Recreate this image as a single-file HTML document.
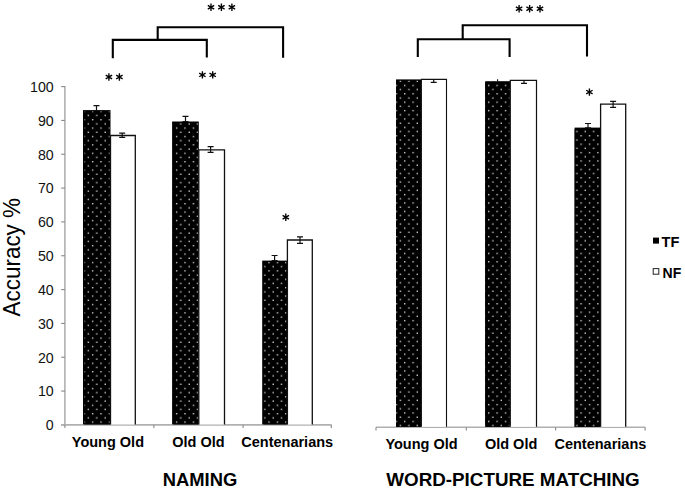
<!DOCTYPE html>
<html><head><meta charset="utf-8"><style>
html,body{margin:0;padding:0;background:#fff;width:685px;height:490px;overflow:hidden}
svg text{font-family:"Liberation Sans",sans-serif}
</style></head><body>
<svg width="685" height="490" viewBox="0 0 685 490" style="display:block;font-family:'Liberation Sans',sans-serif"><defs>
<pattern id="dots" patternUnits="userSpaceOnUse" width="8.4" height="8.4" x="2.3" y="4.2">
<rect width="8.4" height="8.4" fill="#000"/>
<rect x="1.45" y="1.45" width="1.3" height="1.3" fill="#e8e8e8"/>
<rect x="5.65" y="5.65" width="1.3" height="1.3" fill="#e8e8e8"/>
</pattern>
<pattern id="dotsR" patternUnits="userSpaceOnUse" width="8.4" height="8.4" x="3.6" y="3.5">
<rect width="8.4" height="8.4" fill="#000"/>
<rect x="1.45" y="1.45" width="1.3" height="1.3" fill="#e8e8e8"/>
<rect x="5.65" y="5.65" width="1.3" height="1.3" fill="#e8e8e8"/>
</pattern>
</defs>
<line x1="64.9" y1="86.10" x2="64.9" y2="424.9" stroke="#b0b0b0" stroke-width="1.6"/>
<line x1="61.2" y1="424.90" x2="64.9" y2="424.90" stroke="#888" stroke-width="1.1"/>
<text x="53.7" y="430.20" text-anchor="end" font-size="14.2" fill="#111">0</text>
<line x1="61.2" y1="391.07" x2="64.9" y2="391.07" stroke="#888" stroke-width="1.1"/>
<text x="53.7" y="396.37" text-anchor="end" font-size="14.2" fill="#111">10</text>
<line x1="61.2" y1="357.24" x2="64.9" y2="357.24" stroke="#888" stroke-width="1.1"/>
<text x="53.7" y="362.54" text-anchor="end" font-size="14.2" fill="#111">20</text>
<line x1="61.2" y1="323.41" x2="64.9" y2="323.41" stroke="#888" stroke-width="1.1"/>
<text x="53.7" y="328.71" text-anchor="end" font-size="14.2" fill="#111">30</text>
<line x1="61.2" y1="289.58" x2="64.9" y2="289.58" stroke="#888" stroke-width="1.1"/>
<text x="53.7" y="294.88" text-anchor="end" font-size="14.2" fill="#111">40</text>
<line x1="61.2" y1="255.75" x2="64.9" y2="255.75" stroke="#888" stroke-width="1.1"/>
<text x="53.7" y="261.05" text-anchor="end" font-size="14.2" fill="#111">50</text>
<line x1="61.2" y1="221.92" x2="64.9" y2="221.92" stroke="#888" stroke-width="1.1"/>
<text x="53.7" y="227.22" text-anchor="end" font-size="14.2" fill="#111">60</text>
<line x1="61.2" y1="188.09" x2="64.9" y2="188.09" stroke="#888" stroke-width="1.1"/>
<text x="53.7" y="193.39" text-anchor="end" font-size="14.2" fill="#111">70</text>
<line x1="61.2" y1="154.26" x2="64.9" y2="154.26" stroke="#888" stroke-width="1.1"/>
<text x="53.7" y="159.56" text-anchor="end" font-size="14.2" fill="#111">80</text>
<line x1="61.2" y1="120.43" x2="64.9" y2="120.43" stroke="#888" stroke-width="1.1"/>
<text x="53.7" y="125.73" text-anchor="end" font-size="14.2" fill="#111">90</text>
<line x1="61.2" y1="86.60" x2="64.9" y2="86.60" stroke="#888" stroke-width="1.1"/>
<text x="53.7" y="91.90" text-anchor="end" font-size="14.2" fill="#111">100</text>
<line x1="61.2" y1="424.9" x2="331.6" y2="424.9" stroke="#b0b0b0" stroke-width="1.6"/>
<line x1="64.9" y1="424.9" x2="64.9" y2="428" stroke="#888" stroke-width="1.1"/>
<line x1="153.9" y1="424.9" x2="153.9" y2="428" stroke="#888" stroke-width="1.1"/>
<line x1="243.1" y1="424.9" x2="243.1" y2="428" stroke="#888" stroke-width="1.1"/>
<line x1="331.3" y1="424.9" x2="331.3" y2="428" stroke="#888" stroke-width="1.1"/>
<line x1="376" y1="427.3" x2="645.3" y2="427.3" stroke="#b0b0b0" stroke-width="1.6"/>
<line x1="376.0" y1="427.3" x2="376.0" y2="430.6" stroke="#888" stroke-width="1.1"/>
<line x1="466.3" y1="427.3" x2="466.3" y2="430.6" stroke="#888" stroke-width="1.1"/>
<line x1="555.6" y1="427.3" x2="555.6" y2="430.6" stroke="#888" stroke-width="1.1"/>
<line x1="645.1" y1="427.3" x2="645.1" y2="430.6" stroke="#888" stroke-width="1.1"/>
<rect x="83.0" y="110.1" width="27.50" height="314.30" fill="#000"/>
<rect x="84.4" y="111.3" width="25.30" height="313.10" fill="url(#dots)"/>
<path d="M110.5 424.4 V135.5 H135.3 V424.4" fill="#fff" stroke="#111" stroke-width="1.3"/>
<path d="M96.5 105.7 V110.5 M93.5 105.7 H99.5 M93.5 110.5 H99.5" stroke="#111" stroke-width="1.2" fill="none"/>
<path d="M122.2 133.2 V137.4 M119.2 133.2 H125.2 M119.2 137.4 H125.2" stroke="#111" stroke-width="1.2" fill="none"/>
<rect x="172.1" y="121.5" width="26.70" height="302.90" fill="#000"/>
<rect x="173.5" y="122.7" width="24.50" height="301.70" fill="url(#dots)"/>
<path d="M198.8 424.4 V149.9 H224.5 V424.4" fill="#fff" stroke="#111" stroke-width="1.3"/>
<path d="M185.5 116.3 V121.5 M182.5 116.3 H188.5 M182.5 121.5 H188.5" stroke="#111" stroke-width="1.2" fill="none"/>
<path d="M210.6 146.7 V152.4 M207.6 146.7 H213.6 M207.6 152.4 H213.6" stroke="#111" stroke-width="1.2" fill="none"/>
<rect x="262.2" y="260.6" width="25.20" height="163.80" fill="#000"/>
<rect x="263.59999999999997" y="261.8" width="23.00" height="162.60" fill="url(#dots)"/>
<path d="M287.4 424.4 V240.0 H312.3 V424.4" fill="#fff" stroke="#111" stroke-width="1.3"/>
<path d="M274.6 255.5 V260.6 M271.6 255.5 H277.6 M271.6 260.6 H277.6" stroke="#111" stroke-width="1.2" fill="none"/>
<path d="M300.0 236.8 V243.4 M297.0 236.8 H303.0 M297.0 243.4 H303.0" stroke="#111" stroke-width="1.2" fill="none"/>
<rect x="396.1" y="79.4" width="25.30" height="347.40" fill="#000"/>
<rect x="396.1" y="80.60000000000001" width="24.50" height="346.20" fill="url(#dotsR)"/>
<path d="M421.4 426.8 V79.4 H446.5 V426.8" fill="#fff" stroke="#111" stroke-width="1.1"/>
<path d="M433.7 79.4 V82.3 M430.7 82.3 H436.7" stroke="#111" stroke-width="1.2" fill="none"/>
<rect x="485.2" y="81.2" width="25.10" height="345.60" fill="#000"/>
<rect x="485.2" y="82.4" width="24.30" height="344.40" fill="url(#dotsR)"/>
<path d="M510.3 426.8 V80.4 H536.5 V426.8" fill="#fff" stroke="#111" stroke-width="1.2"/>
<line x1="497.6" y1="79.2" x2="497.6" y2="81.5" stroke="#111" stroke-width="1.1"/>
<path d="M524.0 80.4 V83.3 M521.0 83.3 H527.0" stroke="#111" stroke-width="1.2" fill="none"/>
<rect x="574.6" y="127.6" width="26.00" height="299.20" fill="#000"/>
<rect x="574.6" y="128.79999999999998" width="25.20" height="298.00" fill="url(#dotsR)"/>
<path d="M600.6 426.8 V104.2 H625.7 V426.8" fill="#fff" stroke="#111" stroke-width="1.3"/>
<path d="M588.0 123.5 V127.8 M585.0 123.5 H591.0 M585.0 127.8 H591.0" stroke="#111" stroke-width="1.2" fill="none"/>
<path d="M613.1 101.3 V107.3 M610.1 101.3 H616.1 M610.1 107.3 H616.1" stroke="#111" stroke-width="1.2" fill="none"/>
<path d="M112.8 58.3 L112.8 39.9 L206.8 39.9 L206.8 57.5" fill="none" stroke="#000" stroke-width="2.1" stroke-linejoin="miter"/>
<path d="M157.7 39.9 L157.7 27.2 L283.1 27.2 L283.1 57.7" fill="none" stroke="#000" stroke-width="2.1" stroke-linejoin="miter"/>
<path d="M417.8 56.9 L417.8 39.2 L509.6 39.2 L509.6 56.9" fill="none" stroke="#000" stroke-width="2.1" stroke-linejoin="miter"/>
<path d="M462.7 39.2 L462.7 25.2 L587.0 25.2 L587.0 56.5" fill="none" stroke="#000" stroke-width="2.1" stroke-linejoin="miter"/>
<path d="M211.00 3.60 L211.00 11.00 M207.80 5.45 L214.20 9.15 M214.20 5.45 L207.80 9.15 " stroke="#000" stroke-width="1.35" fill="none"/>
<path d="M221.40 3.60 L221.40 11.00 M218.20 5.45 L224.60 9.15 M224.60 5.45 L218.20 9.15 " stroke="#000" stroke-width="1.35" fill="none"/>
<path d="M231.90 3.60 L231.90 11.00 M228.70 5.45 L235.10 9.15 M235.10 5.45 L228.70 9.15 " stroke="#000" stroke-width="1.35" fill="none"/>
<path d="M108.90 73.30 L108.90 80.70 M105.70 75.15 L112.10 78.85 M112.10 75.15 L105.70 78.85 " stroke="#000" stroke-width="1.35" fill="none"/>
<path d="M119.40 73.30 L119.40 80.70 M116.20 75.15 L122.60 78.85 M122.60 75.15 L116.20 78.85 " stroke="#000" stroke-width="1.35" fill="none"/>
<path d="M202.40 71.20 L202.40 78.60 M199.20 73.05 L205.60 76.75 M205.60 73.05 L199.20 76.75 " stroke="#000" stroke-width="1.35" fill="none"/>
<path d="M212.70 71.20 L212.70 78.60 M209.50 73.05 L215.90 76.75 M215.90 73.05 L209.50 76.75 " stroke="#000" stroke-width="1.35" fill="none"/>
<path d="M285.80 213.60 L285.80 221.00 M282.60 215.45 L289.00 219.15 M289.00 215.45 L282.60 219.15 " stroke="#000" stroke-width="1.35" fill="none"/>
<path d="M519.10 5.00 L519.10 12.40 M515.90 6.85 L522.30 10.55 M522.30 6.85 L515.90 10.55 " stroke="#000" stroke-width="1.35" fill="none"/>
<path d="M529.60 5.00 L529.60 12.40 M526.40 6.85 L532.80 10.55 M532.80 6.85 L526.40 10.55 " stroke="#000" stroke-width="1.35" fill="none"/>
<path d="M540.00 5.00 L540.00 12.40 M536.80 6.85 L543.20 10.55 M543.20 6.85 L536.80 10.55 " stroke="#000" stroke-width="1.35" fill="none"/>
<path d="M589.40 88.40 L589.40 95.80 M586.20 90.25 L592.60 93.95 M592.60 90.25 L586.20 93.95 " stroke="#000" stroke-width="1.35" fill="none"/>
<text x="107.9" y="446.9" text-anchor="middle" font-size="14.5" font-weight="bold" >Young Old</text>
<text x="198.45" y="446.9" text-anchor="middle" font-size="14.5" font-weight="bold" >Old Old</text>
<text x="287.2" y="446.9" text-anchor="middle" font-size="14.5" font-weight="bold" >Centenarians</text>
<text x="421.5" y="449.3" text-anchor="middle" font-size="14.5" font-weight="bold" >Young Old</text>
<text x="511.1" y="449.3" text-anchor="middle" font-size="14.5" font-weight="bold" >Old Old</text>
<text x="600.4" y="449.3" text-anchor="middle" font-size="14.5" font-weight="bold" >Centenarians</text>
<text x="200.0" y="485.6" text-anchor="middle" font-size="18.5" font-weight="bold" textLength="74.5" lengthAdjust="spacingAndGlyphs">NAMING</text>
<text x="513.0" y="485.6" text-anchor="middle" font-size="18.5" font-weight="bold" textLength="253.5" lengthAdjust="spacingAndGlyphs">WORD-PICTURE MATCHING</text>
<text transform="translate(19.5,257.2) rotate(-90)" text-anchor="middle" font-size="23" fill="#000" textLength="118.5" lengthAdjust="spacingAndGlyphs">Accuracy %</text>
<rect x="653" y="237.6" width="6" height="6" fill="#000"/>
<rect x="653.2" y="268.6" width="5.6" height="5.6" fill="#fff" stroke="#222" stroke-width="1"/>
<text x="661.6" y="246.6" text-anchor="start" font-size="14.6" font-weight="bold" >TF</text>
<text x="662.6" y="278.4" text-anchor="start" font-size="14" font-weight="bold" >NF</text></svg>
</body></html>
